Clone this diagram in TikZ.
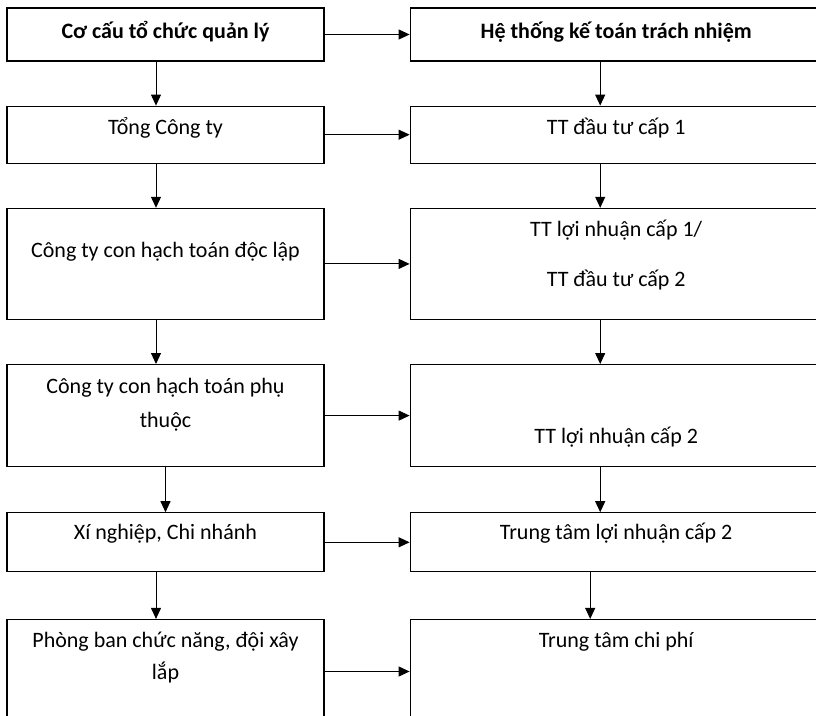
\documentclass[tikz,border=0pt]{standalone}
\usepackage{fontspec}
\setmainfont{Carlito}
\usetikzlibrary{arrows.meta, positioning}

\begin{document}
\begin{tikzpicture}[x=1pt, y=-1pt,
        lbox/.style={draw, line width=1.2pt, minimum width=317pt, inner sep=0pt},
        rbox/.style={draw, line width=1.2pt, minimum width=412pt, inner sep=0pt},
        txt/.style={anchor=base, align=center, inner sep=0pt, font=\fontsize{22}{34}\selectfont},
        arr/.style={-{Triangle[length=11pt, width=10pt]}, line width=1pt}
    ]
    \useasboundingbox (0,0) rectangle (816,715);
    \clip (0,0) rectangle (816,715);
    % left column: co cau to chuc
    \node[lbox, minimum height=53pt] (org) at (165.5,34.5) {};
    \node[lbox, minimum height=57pt, below=44pt of org] (tong) {};
    \node[lbox, minimum height=111pt, below=44pt of tong] (cty) {};
    \node[lbox, minimum height=102pt, below=44pt of cty] (phuthuoc) {};
    \node[lbox, minimum height=59pt, below=45pt of phuthuoc] (xn) {};
    \node[lbox, minimum height=104pt, below=46.5pt of xn] (phong) {};
    % right column: he thong ke toan
    \node[rbox, minimum height=53pt, right=85pt of org] (ktoan) {};
    \node[rbox, minimum height=57pt, right=85pt of tong] (dt1) {};
    \node[rbox, minimum height=111pt, right=85pt of cty] (ln1) {};
    \node[rbox, minimum height=102pt, right=85pt of phuthuoc] (ln2) {};
    \node[rbox, minimum height=59pt, right=85pt of xn] (tlnc2) {};
    \node[rbox, minimum height=104pt, right=85pt of phong] (chiphi) {};
    % texts (base = last line)
    \node[txt, font=\fontsize{22}{34}\selectfont\bfseries] (orgt) at ([yshift=-31pt]org.north) {Cơ cấu tổ chức quản lý};
    \node[txt, font=\fontsize{22}{34}\selectfont\bfseries] (ktoant) at ([yshift=-31pt]ktoan.north) {Hệ thống kế toán trách nhiệm};
    \node[txt] (tongt) at ([yshift=-29pt]tong.north) {Tổng Công ty};
    \node[txt] (dt1t) at ([yshift=-29pt]dt1.north) {TT đầu tư cấp 1};
    \node[txt] (ctyt) at ([yshift=-50pt]cty.north) {Công ty con hạch toán độc lập};
    \node[txt] (ln1t) at ([yshift=-79pt]ln1.north) {TT lợi nhuận cấp 1/\\[16pt]TT đầu tư cấp 2};
    \node[txt] (phuthuoct) at ([yshift=-63pt]phuthuoc.north) {Công ty con hạch toán phụ\\thuộc};
    \node[txt] (ln2t) at ([yshift=-79pt]ln2.north) {TT lợi nhuận cấp 2};
    \node[txt] (xnt) at ([yshift=-27pt]xn.north) {Xí nghiệp, Chi nhánh};
    \node[txt] (tlnc2t) at ([yshift=-27pt]tlnc2.north) {Trung tâm lợi nhuận cấp 2};
    \node[txt] (phongt) at ([yshift=-61pt]phong.north) {Phòng ban chức năng, đội xây\\[-2pt]lắp};
    \node[txt] (chiphit) at ([yshift=-29pt]chiphi.north) {Trung tâm chi phí};
    % arrows across
    \draw[arr] (org) -- (ktoan);
    \draw[arr] (tong) -- (dt1);
    \draw[arr] (cty) -- (ln1);
    \draw[arr] (phuthuoc) -- (ln2);
    \draw[arr] (xn) -- (tlnc2);
    \draw[arr] (phong) -- (chiphi);
    % arrows down
    \draw[arr] ([xshift=-9.5pt]org.south) -- ([xshift=-9.5pt]tong.north);
    \draw[arr] ([xshift=-9.5pt]tong.south) -- ([xshift=-9.5pt]cty.north);
    \draw[arr] ([xshift=-9.5pt]cty.south) -- ([xshift=-9.5pt]phuthuoc.north);
    \draw[arr] (phuthuoc) -- (xn);
    \draw[arr] ([xshift=-9.5pt]xn.south) -- ([xshift=-9.5pt]phong.north);
    \draw[arr] ([xshift=-16pt]ktoan.south) -- ([xshift=-16pt]dt1.north);
    \draw[arr] ([xshift=-16pt]dt1.south) -- ([xshift=-16pt]ln1.north);
    \draw[arr] ([xshift=-16pt]ln1.south) -- ([xshift=-16pt]ln2.north);
    \draw[arr] ([xshift=-16pt]ln2.south) -- ([xshift=-16pt]tlnc2.north);
    \draw[arr] ([xshift=-26pt]tlnc2.south) -- ([xshift=-26pt]chiphi.north);
\end{tikzpicture}
\end{document}
